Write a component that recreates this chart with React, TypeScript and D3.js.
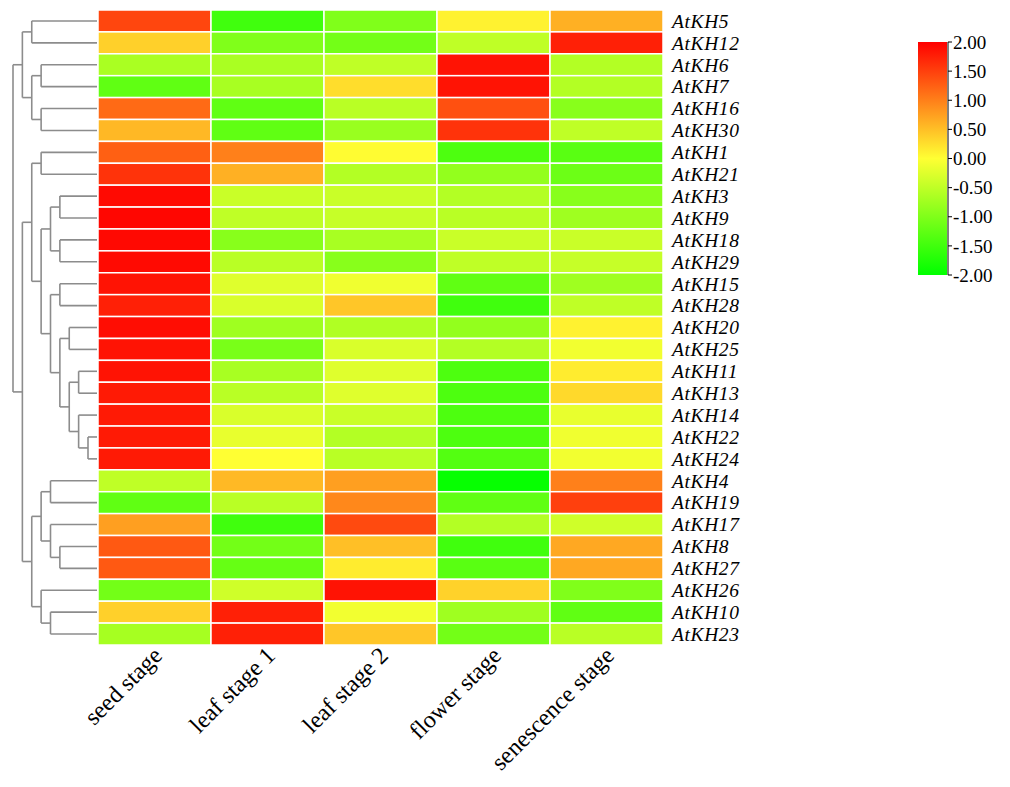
import React from 'react'
import * as d3 from 'd3'

const genes = [
  'AtKH5', 'AtKH12', 'AtKH6', 'AtKH7', 'AtKH16', 'AtKH30', 'AtKH1', 'AtKH21', 'AtKH3', 'AtKH9',
  'AtKH18', 'AtKH29', 'AtKH15', 'AtKH28', 'AtKH20', 'AtKH25', 'AtKH11', 'AtKH13', 'AtKH14', 'AtKH22',
  'AtKH24', 'AtKH4', 'AtKH19', 'AtKH17', 'AtKH8', 'AtKH27', 'AtKH26', 'AtKH10', 'AtKH23',
]
const stages = ['seed stage', 'leaf stage 1', 'leaf stage 2', 'flower stage', 'senescence stage']

// z-scores per stage, same order as genes
const seedStage = [
  1.45, 0.37, -0.67, -1.25, 1.17, 0.56, 1.25, 1.6, 1.92, 1.95,
  1.93, 1.92, 1.85, 1.75, 1.9, 1.85, 1.85, 1.8, 1.8, 1.8,
  1.8, -0.5, -1.25, 0.75, 1.3, 1.3, -1.1, 0.37, -0.7,
]
const leafStage1 = [
  -1.5, -1.0, -0.67, -0.68, -1.25, -1.25, 1.0, 0.62, -0.42, -0.5,
  -0.93, -0.55, -0.25, -0.3, -0.75, -1.05, -0.68, -0.55, -0.3, -0.18,
  0.0, 0.55, -0.55, -1.5, -1.1, -1.2, -0.38, 1.75, 1.75,
]
const leafStage2 = [
  -1.0, -1.1, -0.5, 0.27, -0.55, -0.8, 0.02, -0.6, -0.42, -0.45,
  -0.68, -0.93, -0.12, 0.45, -0.62, -0.3, -0.25, -0.25, -0.42, -0.6,
  -0.55, 0.75, 0.93, 1.42, 0.5, 0.15, 1.85, -0.1, 0.45,
]
const flowerStage = [
  0.1, -0.5, 1.85, 1.85, 1.37, 1.6, -1.4, -0.85, -0.6, -0.55,
  -0.42, -0.5, -1.25, -1.5, -0.85, -0.6, -1.4, -1.4, -1.4, -1.4,
  -1.35, -1.95, -1.25, -0.6, -1.5, -1.3, 0.35, -0.75, -1.1,
]
const senescenceStage = [
  0.62, 1.75, -0.6, -0.6, -0.93, -0.5, -1.3, -1.15, -0.93, -0.75,
  -0.42, -0.45, -0.75, -0.5, 0.1, -0.1, 0.15, 0.3, -0.18, -0.12,
  -0.1, 1.0, 1.5, -0.38, 0.68, 0.68, -1.0, -1.25, -0.55,
]
const columns = [seedStage, leafStage1, leafStage2, flowerStage, senescenceStage]

// row clustering, leaves are row indices
const tree = [
  [[0, 1], [[2, 3], [4, 5]]],
  [
    [[6, 7], [[[8, 9], [10, 11]], [[12, 13], [[14, 15], [[16, 17], [18, [19, 20]]]]]]],
    [[[21, 22], [23, [24, 25]]], [26, [27, 28]]],
  ],
]

const legendTicks = [2, 1.5, 1, 0.5, 0, -0.5, -1, -1.5, -2]

const W = 1010
const H = 787
const font = '"Liberation Serif", "Times New Roman", serif'

export default function App() {
  const x = d3.scaleBand().domain(d3.range(stages.length).map(String)).range([98, 663])
  const y = d3.scaleBand().domain(d3.range(genes.length).map(String)).range([10, 645])
  const color = d3
    .scaleLinear<string>()
    .domain([-2, 0, 2])
    .range(['#00ff00', '#ffff33', '#ff0000'])
    .clamp(true)

  const leafX = 97
  const rootX = 13
  const step = 9.375
  const root = d3.hierarchy<any>(tree, d => (Array.isArray(d) ? d : null))
  const nodeY = new Map<any, number>()
  root.eachAfter(n => {
    if (!n.children) nodeY.set(n, y(String(n.data))! + y.bandwidth() / 2)
    else nodeY.set(n, d3.mean(n.children, c => nodeY.get(c)!)!)
  })
  const nodeX = (n: any) => (n.children ? rootX + n.depth * step : leafX)
  const links: string[] = []
  root.each(n => {
    if (!n.children) return
    const nx = nodeX(n)
    const ys = n.children.map(c => nodeY.get(c)!)
    links.push(`M${nx},${d3.min(ys)}V${d3.max(ys)}`)
    n.children.forEach(c => {
      links.push(`M${nx},${nodeY.get(c)}H${nodeX(c)}`)
    })
  })

  const ly = d3.scaleLinear().domain([2, -2]).range([42, 275])

  return (
    <svg width={W} height={H} style={{ position: 'absolute', left: 0, top: 0, background: '#fff' }}>
      <g>
        {links.map((d, i) => (
          <path key={i} d={d} fill="none" stroke="#8c8c8c" strokeWidth={1.6} />
        ))}
      </g>
      <g>
        {columns.map((col, c) =>
          col.map((v, r) => (
            <rect
              key={c + '-' + r}
              x={x(String(c))}
              y={y(String(r))}
              width={x.bandwidth()}
              height={y.bandwidth()}
              fill={color(v)}
              stroke="#fff"
              strokeWidth={1.5}
            />
          ))
        )}
      </g>
      <g fontFamily={font} fontStyle="italic" fontSize={19.5} letterSpacing={0.6} fill="#000">
        {genes.map((g, i) => (
          <text key={g} x={672} y={y(String(i))! + y.bandwidth() / 2} dy="0.35em">
            {g}
          </text>
        ))}
      </g>
      <g fontFamily={font} fontSize={24} fill="#000">
        {stages.map((s, i) => (
          <text
            key={s}
            textAnchor="end"
            transform={`translate(${x(String(i))! + x.bandwidth() / 2 + 9},${657}) rotate(-45)`}
          >
            {s}
          </text>
        ))}
      </g>
      <defs>
        <linearGradient id="lg" x1="0" y1="0" x2="0" y2="1">
          <stop offset="0%" stopColor="#ff0000" />
          <stop offset="50%" stopColor="#ffff33" />
          <stop offset="100%" stopColor="#00ff00" />
        </linearGradient>
      </defs>
      <g>
        <rect x={918} y={ly(2)} width={29} height={ly(-2) - ly(2)} fill="url(#lg)" />
        <line x1={948} x2={948} y1={ly(2)} y2={ly(-2)} stroke="#000" strokeWidth={1} />
        {legendTicks.map(t => (
          <g key={t} transform={`translate(948,${ly(t)})`}>
            <line x1={0} x2={4} stroke="#000" />
            <text x={5} dy="0.35em" fontFamily={font} fontSize={19}>
              {t.toFixed(2)}
            </text>
          </g>
        ))}
      </g>
    </svg>
  )
}
